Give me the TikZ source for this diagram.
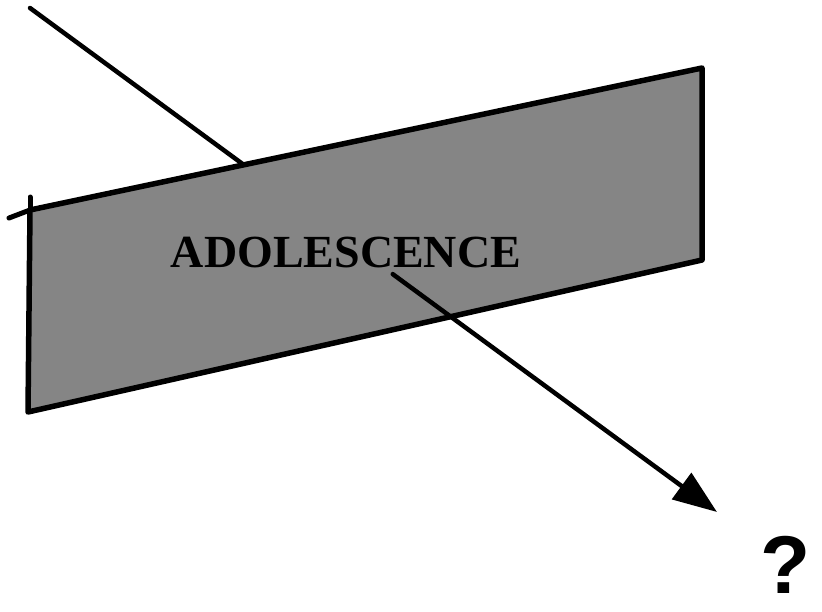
\documentclass[tikz,border=0pt]{standalone}
\usepackage{fontspec}
\setmainfont{Liberation Serif}
\newfontfamily\qfont{Liberation Sans}
\usetikzlibrary{arrows.meta,calc}
\definecolor{ink}{HTML}{000000}
\definecolor{halftone}{HTML}{858585}
\tikzset{
    every picture/.style={line cap=round,line join=round},
    planeface/.style={fill=halftone,draw=ink,line width=5.5pt},
    planeedge/.style={draw=ink,line width=5pt},
    pathline/.style={draw=ink,line width=4.5pt},
    patharrow/.style={pathline,-{Triangle[length=44pt,width=32pt]}},
    stagelabel/.style={inner sep=0pt,font=\bfseries\fontsize{46}{46}\selectfont,text=ink},
    asklabel/.style={inner sep=0pt,font=\qfont\bfseries\fontsize{82}{82}\selectfont,text=ink}
}
\begin{document}
\begin{tikzpicture}[x=1pt,y=-1pt]
    \useasboundingbox (0,0) rectangle (822,611);
    % plane corners
    \coordinate (tl) at (30,210);
    \coordinate (tr) at (702,68);
    \coordinate (br) at (702,260);
    \coordinate (bl) at (28,412);
    % path of the arrow
    \coordinate (tail) at (30,8);
    \coordinate (tip) at (717,512);
    \coordinate (pierce) at ($(tail)!0.528!(tip)$);
    % part behind the plane
    \draw[pathline] (tail)--(pierce);
    \fill[planeface] (tl)--(tr)--(br)--(bl)--cycle;
    % small overshoots at the top left corner
    \coordinate (tlx) at (9,218);
    \coordinate (tly) at (30,197);
    \draw[planeedge] (tlx)--(tl);
    \draw[planeedge] (tly)--(tl);
    \node[stagelabel,anchor=base] (stage) at (346,267) {ADOLESCENCE};
    % part in front of the plane
    \draw[patharrow] (pierce)--(tip);
    \node[asklabel,anchor=base west] (ask) at (760,593) {?};
\end{tikzpicture}
\end{document}
